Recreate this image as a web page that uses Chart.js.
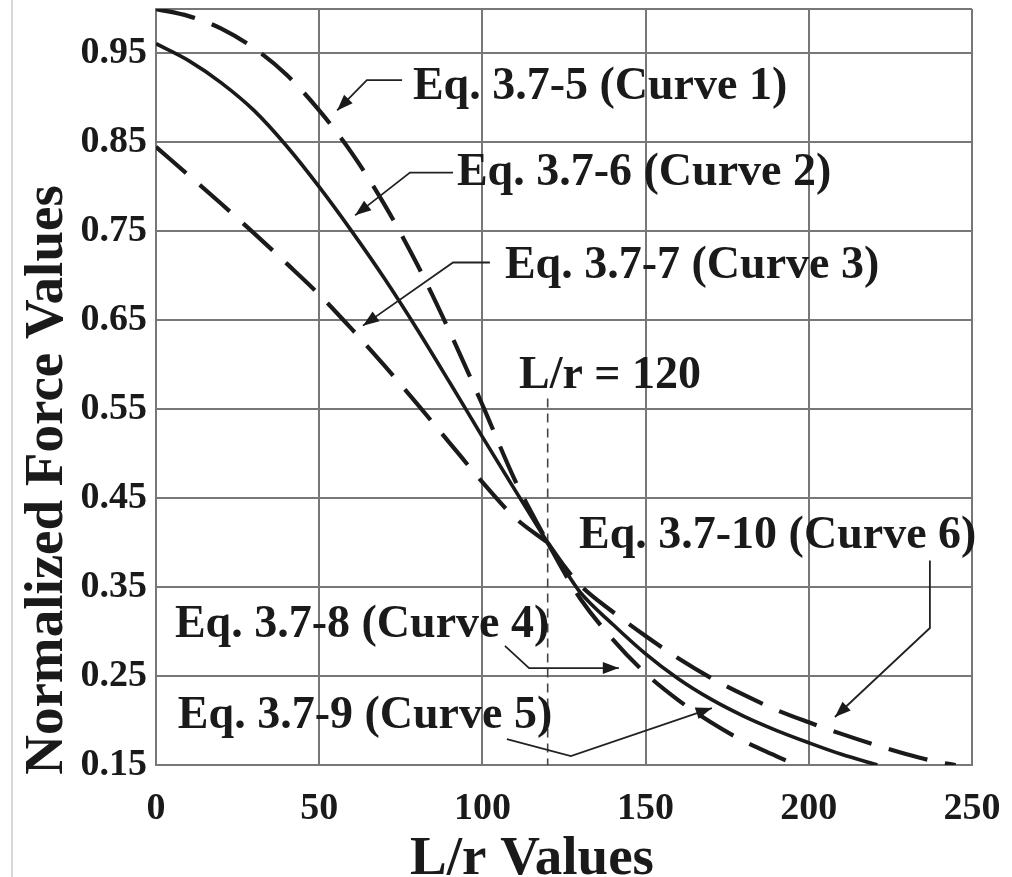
<!DOCTYPE html>
<html><head><meta charset="utf-8">
<script src="https://cdn.jsdelivr.net/npm/chart.js@4.4.0/dist/chart.umd.min.js"></script>
<style>html,body{margin:0;padding:0;background:#fff;}#wrap{width:1012px;height:877px;}</style>
</head><body><div id="wrap"><canvas id="c" width="1012" height="877"></canvas></div>
<script>
// ---- data ----
const xTicks = [0, 50, 100, 150, 200, 250];
const yTicks = [0.15, 0.25, 0.35, 0.45, 0.55, 0.65, 0.75, 0.85, 0.95];
const yFrame = 1.0; // top frame line (no label)

const lrLeft = [0, 10, 20, 30, 40, 50, 60, 70, 80, 90, 100, 110, 120];
const curve1 = [1.000, 0.992, 0.978, 0.956, 0.926, 0.886, 0.838, 0.780, 0.713, 0.637, 0.555, 0.470, 0.400];
const curve2 = [0.961, 0.942, 0.917, 0.886, 0.846, 0.800, 0.750, 0.697, 0.640, 0.580, 0.519, 0.459, 0.400];
const curve3 = [0.845, 0.813, 0.781, 0.748, 0.714, 0.679, 0.640, 0.599, 0.556, 0.512, 0.468, 0.428, 0.400];

const lr4 = [120, 125, 130, 140, 150, 160, 170, 180, 190, 200, 210, 221];
const curve4 = [0.400, 0.371, 0.344, 0.308, 0.275, 0.247, 0.224, 0.205, 0.189, 0.175, 0.162, 0.150];
const lr5 = [120, 125, 130, 140, 150, 160, 170, 180, 190, 196];
const curve5 = [0.400, 0.367, 0.337, 0.291, 0.253, 0.223, 0.198, 0.177, 0.160, 0.150];
const lr6 = [120, 125, 130, 140, 150, 160, 170, 180, 190, 200, 210, 220, 230, 240, 245];
const curve6 = [0.400, 0.374, 0.352, 0.322, 0.295, 0.270, 0.248, 0.229, 0.212, 0.198, 0.185, 0.173, 0.162, 0.153, 0.150];

const refLr = [120, 120];
const refVal = [0.562, 0.15];

// annotation texts (left x, baseline y, in data units)
const noteText = ['Eq. 3.7-5 (Curve 1)', 'Eq. 3.7-6 (Curve 2)', 'Eq. 3.7-7 (Curve 3)', 'L/r = 120',
                  'Eq. 3.7-10 (Curve 6)', 'Eq. 3.7-8 (Curve 4)', 'Eq. 3.7-9 (Curve 5)'];
const noteX = [78.7, 92.2, 106.9, 111.2, 129.6, 5.8, 6.7];
const noteY = [0.899, 0.802, 0.698, 0.574, 0.394, 0.294, 0.192];

// leader arrows (polyline in data units, arrowhead at the last point)
const arrowPaths = [
  [[75.4, 0.920], [64.6, 0.920], [55.5, 0.886]],
  [[91.0, 0.816], [77.8, 0.816], [61.0, 0.768]],
  [[102.3, 0.715], [91.0, 0.715], [63.4, 0.644]],
  [[237.1, 0.380], [237.1, 0.304], [208.0, 0.204]],
  [[106.9, 0.284], [114.3, 0.259], [141.8, 0.259]],
  [[107.5, 0.179], [127.1, 0.160], [170.3, 0.214]]
];

const FONT = 'Liberation Serif';
const INK = '#1a1a1a';
const GRID = '#777777';

function pts(xs, ys) { return xs.map((x, i) => ({x: x, y: ys[i]})); }
function dashed(data) {
  return {data: data, borderColor: INK, borderWidth: 4.2, borderDash: [40, 18], pointRadius: 0,
          cubicInterpolationMode: 'monotone', fill: false};
}
function solid(data) {
  return {data: data, borderColor: INK, borderWidth: 3.6, pointRadius: 0,
          cubicInterpolationMode: 'monotone', fill: false};
}

const annotate = {
  id: 'annotate',
  afterDatasetsDraw(chart) {
    const ctx = chart.ctx, xs = chart.scales.x, ys = chart.scales.y;
    ctx.save();
    ctx.fillStyle = INK;
    ctx.font = 'bold 46px "' + FONT + '"';
    ctx.textBaseline = 'alphabetic';
    ctx.textAlign = 'left';
    noteText.forEach((t, i) => ctx.fillText(t, xs.getPixelForValue(noteX[i]), ys.getPixelForValue(noteY[i])));
    ctx.strokeStyle = '#222';
    ctx.lineWidth = 1.8;
    arrowPaths.forEach(p => {
      const px = p.map(q => [xs.getPixelForValue(q[0]), ys.getPixelForValue(q[1])]);
      ctx.beginPath();
      ctx.moveTo(px[0][0], px[0][1]);
      for (let i = 1; i < px.length; i++) ctx.lineTo(px[i][0], px[i][1]);
      ctx.stroke();
      const a = px[px.length - 2], b = px[px.length - 1];
      const ang = Math.atan2(b[1] - a[1], b[0] - a[0]);
      const L = 16, W = 6;
      ctx.beginPath();
      ctx.moveTo(b[0], b[1]);
      ctx.lineTo(b[0] - L * Math.cos(ang) + W * Math.sin(ang), b[1] - L * Math.sin(ang) - W * Math.cos(ang));
      ctx.lineTo(b[0] - L * Math.cos(ang) - W * Math.sin(ang), b[1] - L * Math.sin(ang) + W * Math.cos(ang));
      ctx.closePath();
      ctx.fill();
    });
    ctx.restore();
  },
  afterDraw(chart) {
    const ctx = chart.ctx, ca = chart.chartArea;
    ctx.save();
    ctx.fillStyle = INK;
    ctx.font = 'bold 55px "' + FONT + '"';
    ctx.textAlign = 'center';
    ctx.textBaseline = 'alphabetic';
    ctx.fillText('L/r Values', ca.left + 376, chart.height - 3);
    ctx.translate(ca.left - 94, ca.bottom - 285);
    ctx.rotate(-Math.PI / 2);
    ctx.fillText('Normalized Force Values', 0, 0);
    ctx.restore();
    ctx.save();
    ctx.strokeStyle = '#d8d8d8';
    ctx.lineWidth = 2;
    ctx.beginPath();
    ctx.moveTo(12, 0); ctx.lineTo(12, chart.height);
    ctx.stroke();
    ctx.restore();
  }
};

new Chart(document.getElementById('c'), {
  type: 'line',
  data: {
    datasets: [
      dashed(pts(lrLeft, curve1)),
      solid(pts(lrLeft, curve2)),
      dashed(pts(lrLeft, curve3)),
      solid(pts(lr4, curve4)),
      dashed(pts(lr5, curve5)),
      dashed(pts(lr6, curve6)),
      {data: pts(refLr, refVal), borderColor: '#444', borderWidth: 1.6, borderDash: [9, 6], pointRadius: 0, fill: false}
    ]
  },
  options: {
    responsive: false,
    animation: false,
    devicePixelRatio: 1,
    layout: {padding: {left: 0, top: 9, right: 40, bottom: 0}},
    plugins: {legend: {display: false}, tooltip: {enabled: false}},
    scales: {
      x: {
        type: 'linear', min: 0, max: 250,
        afterBuildTicks: s => { s.ticks = xTicks.map(v => ({value: v})); },
        afterFit: s => { s.height = 112; s.paddingLeft = 0; s.paddingRight = 0; },
        grid: {color: GRID, lineWidth: 2, drawTicks: false},
        border: {color: GRID, width: 2},
        ticks: {font: {family: FONT, size: 38, weight: 'bold'}, color: INK, padding: 21,
                maxRotation: 0, minRotation: 0, autoSkip: false,
                callback: v => String(v)}
      },
      y: {
        type: 'linear', min: 0.15, max: 1.0,
        afterBuildTicks: s => { s.ticks = yTicks.concat([yFrame]).map(v => ({value: v})); },
        afterFit: s => { s.width = 156; s.paddingTop = 0; s.paddingBottom = 0; },
        grid: {color: GRID, lineWidth: 2, drawTicks: false},
        border: {color: GRID, width: 2},
        ticks: {font: {family: FONT, size: 38, weight: 'bold'}, color: INK, padding: 9, autoSkip: false,
                callback: v => (yTicks.some(t => Math.abs(t - v) < 1e-9) ? v.toFixed(2) : '')}
      }
    }
  },
  plugins: [annotate]
});
</script>
</body></html>
